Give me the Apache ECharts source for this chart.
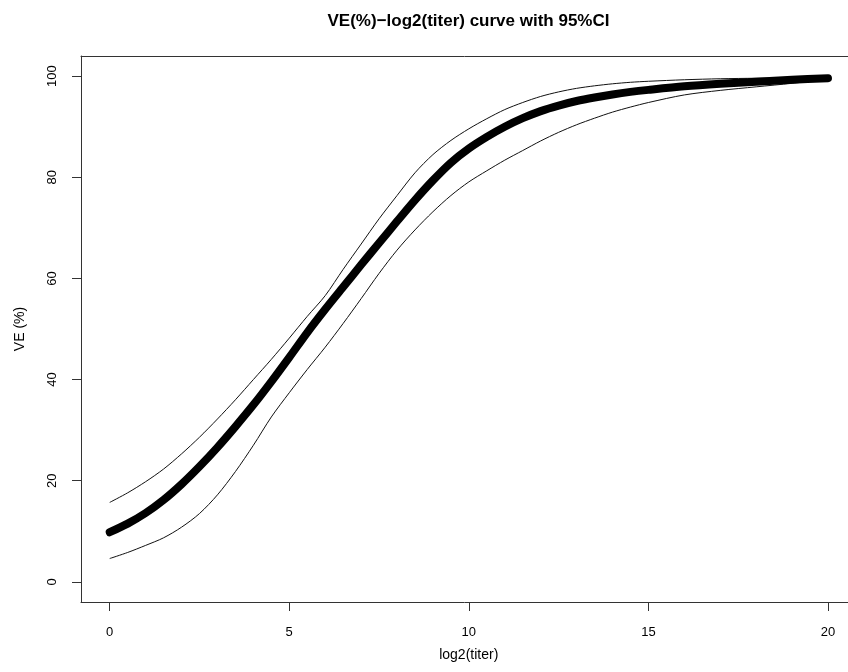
<!DOCTYPE html>
<html>
<head>
<meta charset="utf-8">
<script src="https://cdn.jsdelivr.net/npm/echarts@6/dist/echarts.min.js"></script>
<style>
  html, body { margin: 0; padding: 0; background: #fff; }
  #chart { width: 848px; height: 672px; }
</style>
</head>
<body>
<div id="chart"></div>
<script>
// log2(titer) positions where the curves were read
var titerLog2 = [0, 0.5, 1, 1.5, 2, 2.5, 3, 3.5, 4, 4.5, 5, 5.5, 6, 6.5, 7, 7.5, 8, 8.5, 9, 9.5,
                 10, 10.5, 11, 11.5, 12, 12.5, 13, 13.5, 14, 14.5, 15, 16, 17, 18, 19, 20];
// VE (%) estimate (thick curve)
var veMain  = [9.8, 11.5, 13.6, 16.2, 19.3, 22.8, 26.6, 30.7, 35.0, 39.6, 44.4, 49.3, 53.9, 58.3, 62.7, 67.0, 71.3, 75.5, 79.4, 82.9,
               85.7, 88.0, 90.0, 91.7, 93.1, 94.2, 95.1, 95.8, 96.4, 96.9, 97.3, 98.0, 98.5, 98.9, 99.3, 99.6];
// upper 95% CI
var veUpper = [15.7, 17.6, 19.8, 22.3, 25.3, 28.6, 32.2, 36.0, 40.0, 44.0, 48.2, 52.5, 56.6, 61.8, 66.8, 71.8, 76.4, 80.9, 84.5, 87.3,
               89.6, 91.6, 93.4, 94.8, 96.0, 96.9, 97.6, 98.1, 98.5, 98.8, 99.0, 99.3, 99.5, 99.6, 99.65, 99.7];
// lower 95% CI
var veLower = [4.6, 5.8, 7.2, 8.7, 10.8, 13.5, 17.2, 21.8, 27.0, 32.6, 37.4, 42.0, 46.4, 51.1, 56.0, 61.0, 65.6, 69.6, 73.2, 76.4,
               79.1, 81.3, 83.4, 85.3, 87.2, 88.9, 90.4, 91.7, 92.9, 93.9, 94.8, 96.3, 97.2, 97.9, 98.6, 99.4];
// tick labels
var xTicks = [0, 5, 10, 15, 20];
var yTicks = [0, 20, 40, 60, 80, 100];

function pairs(ys) {
  return titerLog2.map(function (x, i) { return [x, ys[i]]; });
}

var FONT = '"Liberation Sans", Arial, Helvetica, sans-serif';
var AXIS_COLOR = '#333';
var chart = echarts.init(document.getElementById('chart'), null, { renderer: 'canvas' });

function hiddenAxis(gridIndex, min, max) {
  return {
    type: 'value', gridIndex: gridIndex, min: min, max: max,
    axisLine: { show: false }, axisTick: { show: false },
    axisLabel: { show: false }, splitLine: { show: false }
  };
}
function boxLine(gridIndex, min, max, position) {
  return {
    type: 'value', gridIndex: gridIndex, min: min, max: max, position: position,
    axisLine: { show: true, onZero: false, lineStyle: { color: AXIS_COLOR, width: 1 } },
    axisTick: { show: false }, axisLabel: { show: false }, splitLine: { show: false }
  };
}

chart.setOption({
  animation: false,
  backgroundColor: '#ffffff',
  title: {
    text: 'VE(%)\u2212log2(titer) curve with 95%CI',
    left: 468.5,
    top: 13,
    padding: 0,
    textAlign: 'center',
    textStyle: { fontSize: 17, fontWeight: 'bold', color: '#000', fontFamily: FONT }
  },
  grid: [
    // plotting region (R usr region, 4% padding); its right side runs past the picture
    { left: 81, top: 56, width: 767, height: 546 },
    // x tick axis: the tick line sits on the box bottom (zero of a helper scale), labels below
    { left: 109.5, top: 56, width: 718.5, height: 556 },
    // y tick axis: the tick line sits on the box left (zero of a helper scale), labels to the left
    { left: 71, top: 76.2, width: 777, height: 505.6 }
  ],
  xAxis: [
    boxLine(0, -0.8, 20.557, 'bottom'),
    {
      type: 'value', gridIndex: 1,
      min: 0, max: 20,
      name: 'log2(titer)',
      nameLocation: 'middle',
      nameGap: 36,
      nameTextStyle: { fontSize: 14, color: '#000', fontFamily: FONT },
      axisLine: { show: false },
      splitLine: { show: false },
      axisTick: { show: true, inside: false, length: 9, customValues: xTicks, lineStyle: { color: AXIS_COLOR, width: 1 } },
      axisLabel: { customValues: xTicks, margin: 13.5, fontSize: 13, color: '#000', fontFamily: FONT }
    },
    hiddenAxis(2, -10, 767),
    boxLine(0, -0.8, 20.557, 'top')
  ],
  yAxis: [
    boxLine(0, -4, 104, 'left'),
    hiddenAxis(1, -10, 546),
    {
      type: 'value', gridIndex: 2,
      min: 0, max: 100,
      name: 'VE (%)',
      nameLocation: 'middle',
      nameRotate: 90,
      nameGap: 44,
      nameTextStyle: { fontSize: 14, color: '#000', fontFamily: FONT },
      axisLine: { show: false },
      splitLine: { show: false },
      axisTick: { show: true, inside: false, length: 9, customValues: yTicks, lineStyle: { color: AXIS_COLOR, width: 1 } },
      axisLabel: { customValues: yTicks, rotate: 90, margin: 12, fontSize: 13, color: '#000', fontFamily: FONT }
    }
  ],
  series: [
    {
      name: 'upper', type: 'line', xAxisIndex: 0, yAxisIndex: 0,
      data: pairs(veUpper), showSymbol: false, smooth: 0.3,
      lineStyle: { color: '#111', width: 1 }, z: 2
    },
    {
      name: 'lower', type: 'line', xAxisIndex: 0, yAxisIndex: 0,
      data: pairs(veLower), showSymbol: false, smooth: 0.3,
      lineStyle: { color: '#111', width: 1 }, z: 2
    },
    {
      name: 'VE', type: 'line', xAxisIndex: 0, yAxisIndex: 0,
      data: pairs(veMain), showSymbol: false, smooth: 0.3,
      lineStyle: { color: '#000', width: 8, cap: 'round', join: 'round' }, z: 3
    }
  ]
});
</script>
</body>
</html>
